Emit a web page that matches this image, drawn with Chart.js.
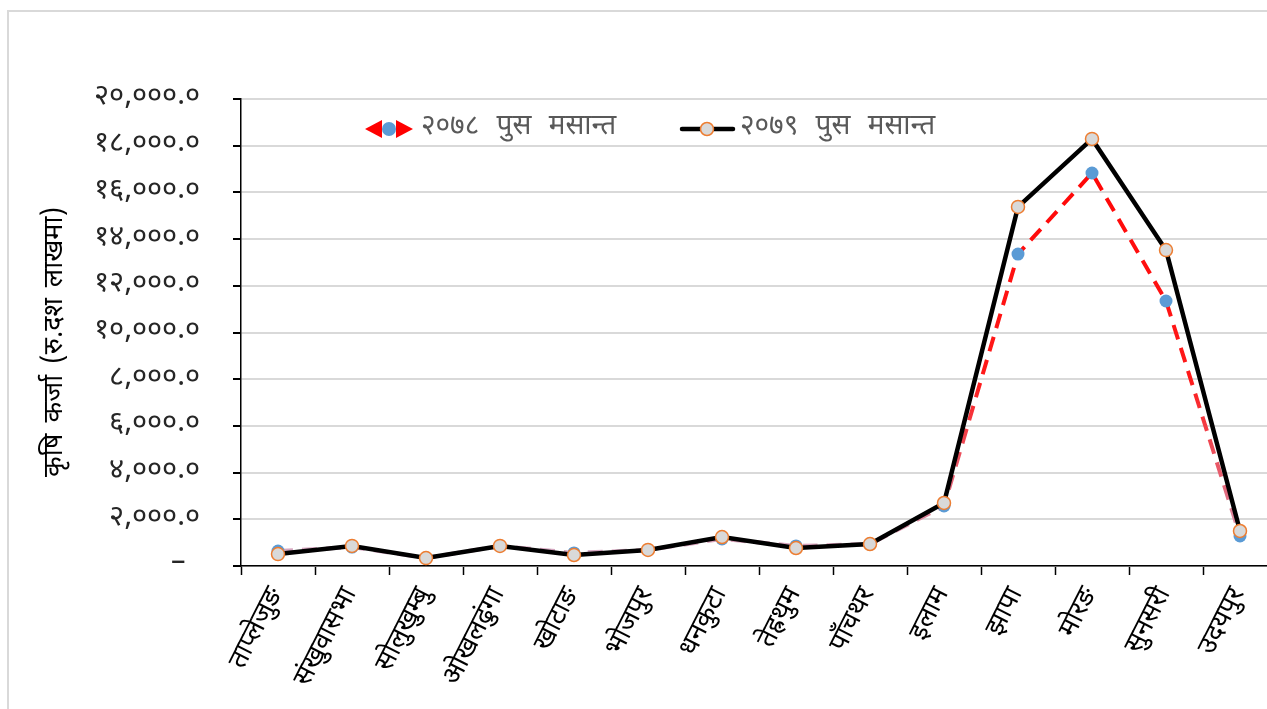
<!DOCTYPE html>
<html>
<head>
<meta charset="utf-8">
<script src="https://cdn.jsdelivr.net/npm/chart.js@4/dist/chart.umd.min.js"></script>
<style>
  body { margin: 0; overflow: hidden; background: #fff; }
  #frame { position: absolute; left: 7px; top: 10px; width: 1300px; height: 720px; border: 2px solid #d9d9d9; }
  #wrap { position: absolute; left: 0; top: 0; width: 1285px; height: 709px; }
</style>
</head>
<body>
<div id="frame"></div>
<div id="wrap"><canvas id="grafica" width="1285" height="709"></canvas></div>
<script>
// जिल्लाहरू
const jilla = ['ताप्लेजुङ', 'संखुवासभा', 'सोलुखुम्बु', 'ओखलढुंगा', 'खोटाङ', 'भोजपुर', 'धनकुटा',
    'तेह्रथुम', 'पाँचथर', 'इलाम', 'झापा', 'मोरङ', 'सुनसरी', 'उदयपुर'];

// कृषि कर्जा (रु. दश लाखमा)
const karja2078 = [640, 810, 340, 860, 560, 690, 1160, 860, 940, 2570, 13360, 16830, 11350, 1290];
const karja2079 = [510, 860, 340, 860, 470, 690, 1240, 770, 940, 2700, 15380, 18290, 13530, 1500];

const shirshak = ['२०७८ पुस मसान्त', '२०७९ पुस मसान्त'];
const yShirshak = 'कृषि कर्जा (रु.दश लाखमा)';
const yTickLabels = ['–\u2002', '२,०००.०', '४,०००.०', '६,०००.०', '८,०००.०', '१०,०००.०',
    '१२,०००.०', '१४,०००.०', '१६,०००.०', '१८,०००.०', '२०,०००.०'];

const FONT = "'Noto Sans Devanagari', 'Noto Sans', sans-serif";

// रातो रेखाको रंग (माथि रातो, तल फिक्का)
function rekhaRang(context) {
    const area = context.chart.chartArea;
    if (!area) return '#ff0000';
    const g = context.chart.ctx.createLinearGradient(0, area.bottom, 0, area.top);
    g.addColorStop(0, 'rgba(205,175,205,0.9)');
    g.addColorStop(0.15, 'rgb(225,110,130)');
    g.addColorStop(0.4, '#ff1a1a');
    g.addColorStop(1, '#ff0000');
    return g;
}

// चार्ट भित्र लेजेन्ड र Y शीर्षक
const legendPlugin = {
    id: 'bhitraLegend',
    afterDraw(chart) {
        const ctx = chart.ctx;
        const y = 129;
        ctx.save();
        // पहिलो: रातो तीर + नीलो बिन्दु
        ctx.fillStyle = '#ff0000';
        ctx.beginPath();
        ctx.moveTo(365, y); ctx.lineTo(382, y - 9); ctx.lineTo(382, y + 9); ctx.closePath(); ctx.fill();
        ctx.beginPath();
        ctx.moveTo(413, y); ctx.lineTo(396, y - 9); ctx.lineTo(396, y + 9); ctx.closePath(); ctx.fill();
        ctx.fillStyle = '#5b9bd5';
        ctx.beginPath(); ctx.arc(389, y, 7, 0, Math.PI * 2); ctx.fill();
        // दोस्रो: कालो रेखा + खैरो बिन्दु
        ctx.strokeStyle = '#000'; ctx.lineWidth = 4.5; ctx.lineCap = 'round';
        ctx.beginPath(); ctx.moveTo(682, y); ctx.lineTo(733, y); ctx.stroke();
        ctx.fillStyle = '#d9d9d9'; ctx.strokeStyle = '#ed7d31'; ctx.lineWidth = 1.5;
        ctx.beginPath(); ctx.arc(707, y, 6.5, 0, Math.PI * 2); ctx.fill(); ctx.stroke();
        // पाठ
        ctx.fillStyle = '#595959';
        ctx.font = '28px ' + FONT;
        ctx.textBaseline = 'middle';
        ctx.textAlign = 'left';
        ctx.wordSpacing = '10px';
        ctx.fillText(shirshak[0], 421, y);
        ctx.fillText(shirshak[1], 740, y);
        // Y अक्ष शीर्षक
        ctx.wordSpacing = '4px';
        ctx.fillStyle = '#000';
        ctx.font = '27px ' + FONT;
        ctx.translate(57, 342);
        ctx.rotate(-Math.PI / 2);
        ctx.textAlign = 'center';
        ctx.fillText(yShirshak, 0, 0);
        ctx.restore();
    }
};

const ctx = document.getElementById('grafica').getContext('2d');
const grafica = new Chart(ctx, {
    type: 'line',
    data: {
        labels: jilla,
        datasets: [{
            label: shirshak[0],
            data: karja2078,
            borderColor: rekhaRang,
            borderWidth: 4,
            borderDash: [15, 9],
            pointRadius: 6.5,
            pointBackgroundColor: '#5b9bd5',
            pointBorderWidth: 0,
            tension: 0,
            order: 1
        }, {
            label: shirshak[1],
            data: karja2079,
            borderColor: '#000',
            borderWidth: 4.5,
            pointRadius: 6.5,
            pointBackgroundColor: '#d9d9d9',
            pointBorderColor: '#ed7d31',
            pointBorderWidth: 1.5,
            tension: 0,
            order: 0
        }]
    },
    options: {
        responsive: false,
        animation: false,
        layout: { padding: { top: 99, right: 8, left: 0, bottom: 0 } },
        plugins: {
            legend: { display: false },
            tooltip: { enabled: false }
        },
        scales: {
            x: {
                offset: true,
                afterFit(scale) { scale.height = 143; },
                grid: { display: true, drawOnChartArea: false, offset: true, tickColor: '#000', tickLength: 9, tickWidth: 1.5 },
                border: { color: '#000', width: 1.5 },
                ticks: {
                    color: '#000',
                    font: { family: FONT, size: 27 },
                    minRotation: 63,
                    maxRotation: 63,
                    autoSkip: false,
                    padding: 8
                }
            },
            y: {
                min: 0,
                max: 20000,
                afterFit(scale) { scale.width = 241; },
                grid: { color: '#d9d9d9', lineWidth: 2, tickColor: '#000', tickLength: 8 },
                border: { color: '#000', width: 1.5 },
                ticks: {
                    stepSize: 2000,
                    color: '#262626',
                    font: { family: FONT, size: 29 },
                    padding: 33,
                    callback: (v, i) => yTickLabels[i]
                }
            }
        }
    },
    plugins: [legendPlugin]
});
</script>
</body>
</html>
